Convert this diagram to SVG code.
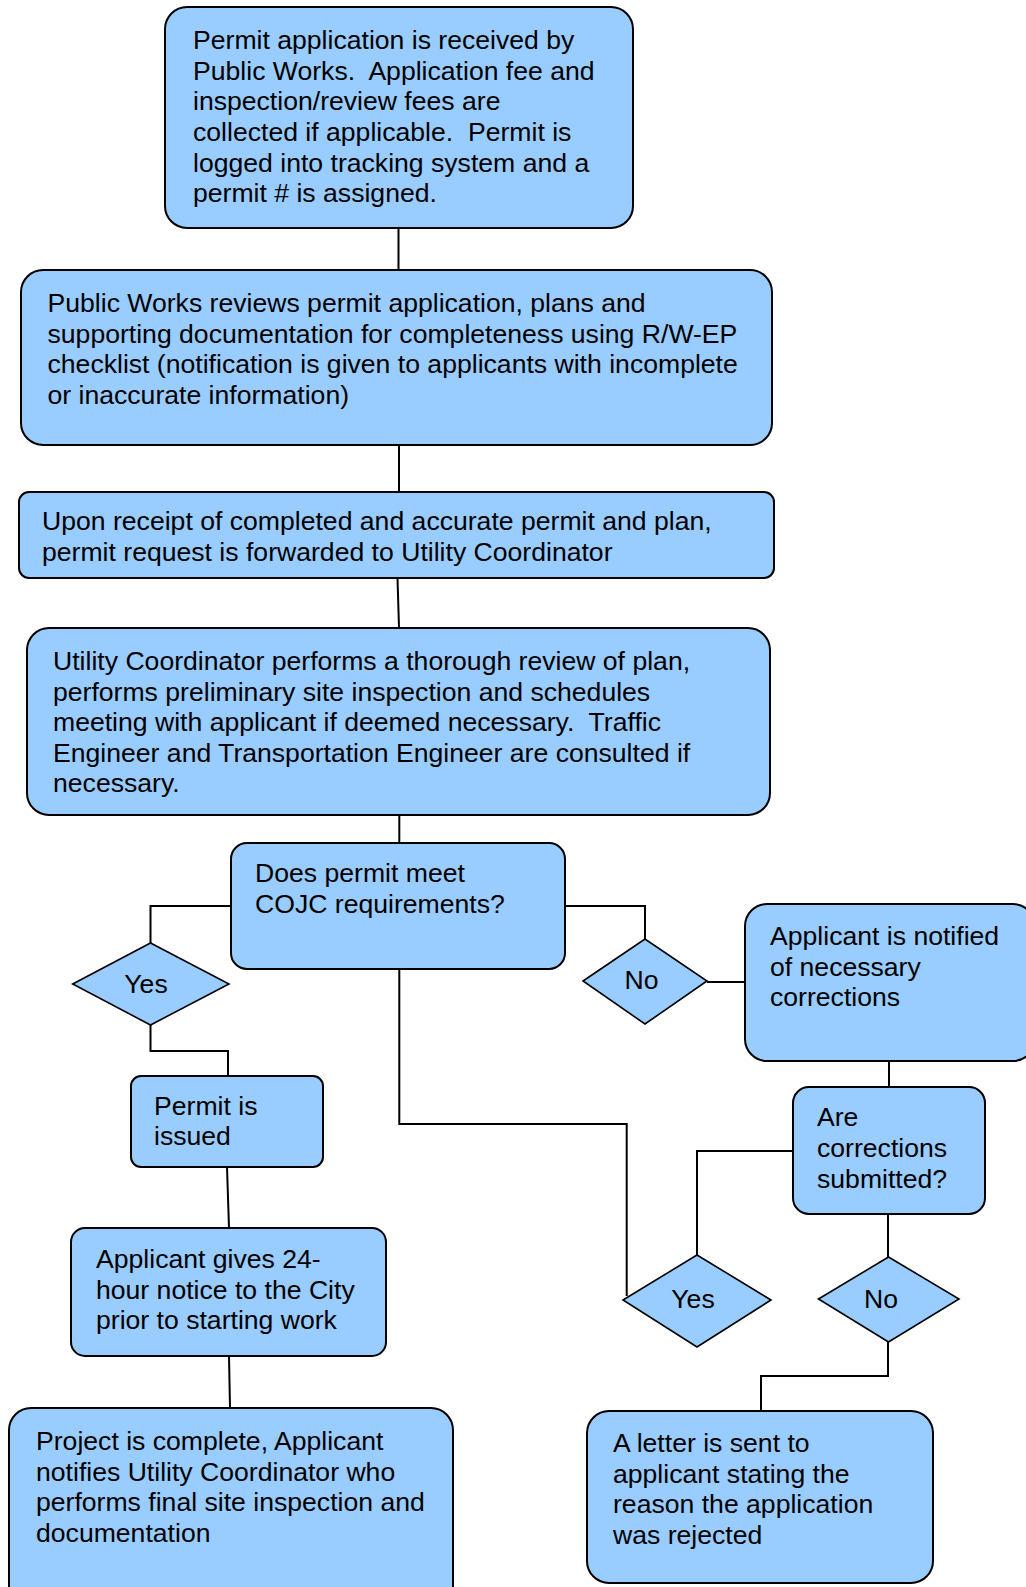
<svg xmlns="http://www.w3.org/2000/svg" width="1026" height="1587" viewBox="0 0 1026 1587">
<style>
.box{fill:#99CCFF;stroke:#000;stroke-width:2}
.dia{fill:#99CCFF;stroke:#000;stroke-width:1.6}
.t{font-family:"Liberation Sans",Arial,sans-serif;font-size:26.6px;fill:#000;white-space:pre}
.c{fill:none;stroke:#000;stroke-width:2}
</style>
<rect width="1026" height="1587" fill="#fff"/>
<g id="connectors">
<path class="c" d="M398.5,228 V270"/>
<path class="c" d="M399,445 V492"/>
<path class="c" d="M397.5,578 L399,628"/>
<path class="c" d="M399.3,815 V843"/>
<path class="c" d="M231,906 H150.5 V943"/>
<path class="c" d="M565,906 H645 V939"/>
<path class="c" d="M707,982 H745"/>
<path class="c" d="M150.5,1025 V1051 H228 V1076"/>
<path class="c" d="M399.3,969 V1124 H626.7 V1296"/>
<path class="c" d="M227,1167 L229,1228"/>
<path class="c" d="M229,1356 L230,1408"/>
<path class="c" d="M889,1060 V1087"/>
<path class="c" d="M793,1151 H697 V1255"/>
<path class="c" d="M888,1214 V1257"/>
<path class="c" d="M888,1342 V1376 H761 V1411"/>
</g>
<g id="n1">
<rect class="box" x="165" y="7" width="468" height="221" rx="22"/>
<text class="t" x="193" y="49" xml:space="preserve">Permit application is received by</text>
<text class="t" x="193" y="79.7" xml:space="preserve">Public Works.  Application fee and</text>
<text class="t" x="193" y="110.3" xml:space="preserve">inspection/review fees are</text>
<text class="t" x="193" y="141" xml:space="preserve">collected if applicable.  Permit is</text>
<text class="t" x="193" y="171.7" xml:space="preserve">logged into tracking system and a</text>
<text class="t" x="193" y="202.3" xml:space="preserve">permit # is assigned.</text>
</g>
<g id="n2">
<rect class="box" x="21" y="270" width="751" height="175" rx="22"/>
<text class="t" x="47.5" y="312">Public Works reviews permit application, plans and</text>
<text class="t" x="47.5" y="342.5">supporting documentation for completeness using R/W-EP</text>
<text class="t" x="47.5" y="373">checklist (notification is given to applicants with incomplete</text>
<text class="t" x="47.5" y="403.5">or inaccurate information)</text>
</g>
<g id="n3">
<rect class="box" x="19" y="492" width="755" height="86" rx="10"/>
<text class="t" x="42" y="530">Upon receipt of completed and accurate permit and plan,</text>
<text class="t" x="42" y="560.5">permit request is forwarded to Utility Coordinator</text>
</g>
<g id="n4">
<rect class="box" x="27" y="628" width="743" height="187" rx="22"/>
<text class="t" x="53" y="670" xml:space="preserve">Utility Coordinator performs a thorough review of plan,</text>
<text class="t" x="53" y="700.5" xml:space="preserve">performs preliminary site inspection and schedules</text>
<text class="t" x="53" y="731" xml:space="preserve">meeting with applicant if deemed necessary.  Traffic</text>
<text class="t" x="53" y="761.5" xml:space="preserve">Engineer and Transportation Engineer are consulted if</text>
<text class="t" x="53" y="792" xml:space="preserve">necessary.</text>
</g>
<g id="n5">
<rect class="box" x="231" y="843" width="334" height="126" rx="16"/>
<text class="t" x="255" y="882">Does permit meet</text>
<text class="t" x="255" y="913">COJC requirements?</text>
</g>
<g id="d-yes1">
<polygon class="dia" points="72.7,984 150.5,943 229,984 150.5,1025"/>
<text class="t" x="146" y="993" text-anchor="middle">Yes</text>
</g>
<g id="d-no1">
<polygon class="dia" points="583,981 645,939 707,981 645,1024"/>
<text class="t" x="641.5" y="989" text-anchor="middle">No</text>
</g>
<g id="n6">
<rect class="box" x="745" y="904" width="290" height="157" rx="22"/>
<text class="t" x="770" y="945">Applicant is notified</text>
<text class="t" x="770" y="975.5">of necessary</text>
<text class="t" x="770" y="1006">corrections</text>
</g>
<g id="n7">
<rect class="box" x="793" y="1087" width="192" height="127" rx="16"/>
<text class="t" x="817" y="1126">Are</text>
<text class="t" x="817" y="1157">corrections</text>
<text class="t" x="817" y="1187.5">submitted?</text>
</g>
<g id="n8">
<rect class="box" x="131" y="1076" width="192" height="91" rx="10"/>
<text class="t" x="154" y="1115">Permit is</text>
<text class="t" x="154" y="1145">issued</text>
</g>
<g id="n9">
<rect class="box" x="71" y="1228" width="315" height="128" rx="14"/>
<text class="t" x="96" y="1268">Applicant gives 24-</text>
<text class="t" x="96" y="1298.5">hour notice to the City</text>
<text class="t" x="96" y="1329">prior to starting work</text>
</g>
<g id="d-yes2">
<polygon class="dia" points="623,1300 697,1255 771,1300 697,1347"/>
<text class="t" x="693" y="1308" text-anchor="middle">Yes</text>
</g>
<g id="d-no2">
<polygon class="dia" points="818.5,1299 888.5,1257 959,1299 888.5,1342"/>
<text class="t" x="881" y="1308" text-anchor="middle">No</text>
</g>
<g id="n10">
<rect class="box" x="9" y="1408" width="444" height="200" rx="22"/>
<text class="t" x="36" y="1450">Project is complete, Applicant</text>
<text class="t" x="36" y="1480.5">notifies Utility Coordinator who</text>
<text class="t" x="36" y="1511">performs final site inspection and</text>
<text class="t" x="36" y="1541.5">documentation</text>
</g>
<g id="n11">
<rect class="box" x="587" y="1411" width="346" height="172" rx="22"/>
<text class="t" x="613" y="1452">A letter is sent to</text>
<text class="t" x="613" y="1482.5">applicant stating the</text>
<text class="t" x="613" y="1513">reason the application</text>
<text class="t" x="613" y="1543.5">was rejected</text>
</g>
</svg>
